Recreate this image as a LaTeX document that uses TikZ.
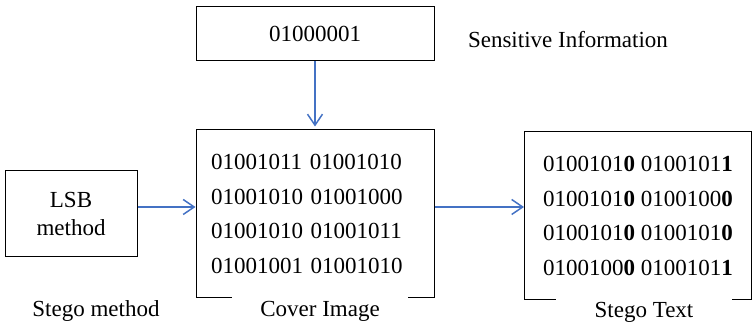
\documentclass[tikz,border=0pt]{standalone}
\usepackage{fontspec}
\setmainfont{Liberation Serif}
\usetikzlibrary{arrows.meta}

\definecolor{flowblue}{RGB}{68,114,196}

\begin{document}
\begin{tikzpicture}[x=1pt,y=1pt,
  every node/.style={font=\fontsize{23}{34.5}\selectfont},
  box/.style={draw,line width=1pt,inner sep=0pt},
  caption/.style={fill=white,inner ysep=6pt,minimum width=176pt},
  flow/.style={draw=flowblue,line width=1.5pt,-{Straight Barb[length=11pt,width=15pt,line width=1.5pt]}}]

\def\bw{238}
\def\sh{7}

\useasboundingbox (0,0) rectangle (753,323);

%boxes
\node[box,minimum width=\bw,minimum height=54] (secret) at (315,289) {01000001};
\node[box,minimum width=\bw,minimum height=168,align=left,text width=200] (cover) at (315,109)
  {\hspace*{-4pt}01001011 01001010\\\hspace*{-4pt}01001010 01001000\\\hspace*{-4pt}01001010 01001011\\\hspace*{-4pt}01001001 01001010};
\node[box,minimum width=227,minimum height=168,align=left] (stego) at (638,107)
  {0100101\textbf{0} 0100101\textbf{1}\\0100101\textbf{0} 0100100\textbf{0}\\0100101\textbf{0} 0100101\textbf{0}\\0100100\textbf{0} 0100101\textbf{1}};
\node[box,minimum width=132,minimum height=86,align=center] (lsb) at (71,109) {LSB\\[-7pt]method};

%labels
\node (info) at (568,283) {Sensitive Information};
\node[caption] (coverlbl) at (320,12) {Cover Image};
\node[caption] (stegolbl) at (644,11) {Stego Text};
\node (methodlbl) at (96,12) {Stego method};

%arrows
\draw[flow] (secret) -- ([yshift=3pt]cover.north);
\draw[flow] ([yshift=\sh]lsb.east) -- ([yshift=\sh]lsb.east -| cover.west);
\draw[flow] ([yshift=\sh]cover.east) -- ([yshift=\sh]cover.east -| stego.west);

\end{tikzpicture}
\end{document}
